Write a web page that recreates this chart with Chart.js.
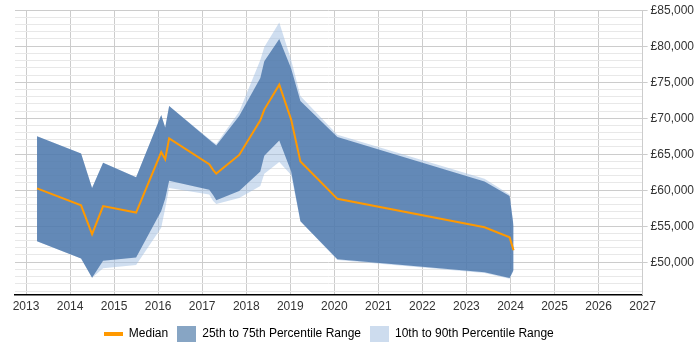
<!DOCTYPE html>
<html>
<head>
    <meta charset="UTF-8">
    <title>Salary chart</title>
    <script src="https://cdn.jsdelivr.net/npm/chart.js"></script>
    <style>
        html, body {
            margin: 0;
            padding: 0;
            background: #fff;
        }
    </style>
</head>
<body>
<canvas id="salaryChart" width="700" height="350"></canvas>
<script>
    // data
    const years = [2013.25, 2014.25, 2014.5, 2014.75, 2015.5, 2016.07, 2016.16, 2016.25, 2017.16, 2017.25, 2017.32,
        2017.84, 2018.32, 2018.41, 2018.75, 2019.02, 2019.23, 2020.07, 2023.41, 2023.98, 2024.07];
    const median = [60250, 57900, 53900, 57800, 56900, 65300, 64300, 67200, 63600, 62800, 62300,
        64900, 69700, 71200, 74650, 69800, 64000, 58800, 54850, 53450, 51650];
    const p75 = [67500, 65100, 60300, 63800, 61800, 70450, 68700, 71700, 67000, 66550, 66200,
        70300, 75600, 77900, 81000, 76900, 72400, 67400, 61200, 59200, 55000];
    const p25 = [52900, 50500, 47850, 50200, 50650, 57100, 58800, 61300, 60070, 59300, 58600,
        59900, 62600, 64800, 66900, 62600, 55700, 50400, 48600, 47800, 48900];
    const p90 = [67500, 65100, 60300, 63800, 61800, 70450, 68700, 71700, 67100, 66700, 66400,
        70900, 78100, 79900, 83300, 78100, 73100, 67700, 61600, 59400, 55200];
    const p10 = [52900, 50500, 47850, 49150, 49600, 54800, 57500, 60300, 59400, 58500, 58100,
        58900, 60600, 62300, 63900, 62100, 55700, 50300, 48500, 47700, 48800];

    const xTicks = [2013, 2014, 2015, 2016, 2017, 2018, 2019, 2020, 2021, 2022, 2023, 2024, 2025, 2026, 2027];
    const yTicks = [];
    for (let v = 46000; v <= 85000; v += 1000) yTicks.push(v);

    const pts = (vals) => vals.map((v, i) => ({x: years[i], y: v}));

    // small canvases used as legend swatches
    function swatch(w, h, color) {
        const c = document.createElement('canvas');
        c.width = w;
        c.height = h;
        const g = c.getContext('2d');
        g.fillStyle = color;
        g.fillRect(0, 0, w, h);
        return c;
    }

    // keep the legend centred under the plot area, not the whole canvas
    const centerLegend = {
        id: 'centerLegend',
        afterLayout(chart) {
            const l = chart.legend;
            const a = chart.chartArea;
            const shift = (a.left + a.right) / 2 - (l.left + l.right) / 2;
            l.left += shift;
            l.right += shift;
        }
    };

    Chart.defaults.font.family = '"Liberation Sans", Arial, sans-serif';
    Chart.defaults.font.size = 12;
    Chart.defaults.color = '#333';

    const ctx = document.getElementById('salaryChart').getContext('2d');
    new Chart(ctx, {
        type: 'line',
        data: {
            datasets: [
                {
                    label: 'Median',
                    data: pts(median),
                    borderColor: '#ff9900',
                    backgroundColor: '#ff9900',
                    borderWidth: 2,
                    pointRadius: 0,
                    fill: false
                },
                {
                    label: '25th to 75th Percentile Range',
                    data: pts(p75),
                    borderWidth: 0,
                    borderColor: 'rgba(0,0,0,0)',
                    backgroundColor: 'rgba(62,108,163,0.74)',
                    pointRadius: 0,
                    fill: '+1'
                },
                {
                    label: 'p25',
                    data: pts(p25),
                    borderWidth: 0,
                    borderColor: 'rgba(0,0,0,0)',
                    pointRadius: 0,
                    fill: false
                },
                {
                    label: '10th to 90th Percentile Range',
                    data: pts(p90),
                    borderWidth: 0,
                    borderColor: 'rgba(0,0,0,0)',
                    backgroundColor: 'rgba(160,190,225,0.5)',
                    pointRadius: 0,
                    fill: '+1'
                },
                {
                    label: 'p10',
                    data: pts(p10),
                    borderWidth: 0,
                    borderColor: 'rgba(0,0,0,0)',
                    pointRadius: 0,
                    fill: false
                }
            ]
        },
        options: {
            responsive: false,
            animation: false,
            layout: {
                padding: {left: 15, right: 3, top: 0, bottom: 0}
            },
            elements: {
                line: {tension: 0}
            },
            scales: {
                x: {
                    type: 'linear',
                    min: 2012.75,
                    max: 2027,
                    afterBuildTicks: (scale) => {
                        scale.ticks = xTicks.map(v => ({value: v}));
                    },
                    ticks: {
                        padding: 5,
                        autoSkip: false,
                        maxRotation: 0,
                        callback: (v) => String(v)
                    },
                    grid: {
                        color: '#cccccc',
                        drawTicks: false
                    },
                    border: {
                        color: '#000',
                        width: 1.5
                    }
                },
                y: {
                    position: 'right',
                    min: 45500,
                    max: 85000,
                    afterBuildTicks: (scale) => {
                        scale.ticks = yTicks.map(v => ({value: v}));
                    },
                    ticks: {
                        padding: 3,
                        autoSkip: false,
                        callback: (v) => v % 5000 === 0 ? '£' + v.toLocaleString('en-GB') : ''
                    },
                    grid: {
                        color: (c) => c.tick && c.tick.value % 5000 === 0 ? '#cccccc' : '#e8e8e8',
                        tickColor: (c) => c.tick && c.tick.value % 5000 === 0 ? '#cccccc' : 'rgba(0,0,0,0)',
                        tickLength: 5
                    },
                    border: {
                        color: '#cccccc'
                    }
                }
            },
            plugins: {
                tooltip: {enabled: false},
                legend: {
                    position: 'bottom',
                    labels: {
                        usePointStyle: true,
                        pointStyleWidth: 19,
                        boxHeight: 12,
                        padding: 9,
                        color: '#333',
                        generateLabels: () => [
                            {text: 'Median', pointStyle: swatch(19, 4, '#ff9900'), lineWidth: 0, datasetIndex: 0},
                            {text: '25th to 75th Percentile Range', pointStyle: swatch(19, 16, '#87a5c4'), lineWidth: 0, datasetIndex: 1},
                            {text: '10th to 90th Percentile Range', pointStyle: swatch(19, 16, '#cddcee'), lineWidth: 0, datasetIndex: 3}
                        ]
                    }
                }
            }
        },
        plugins: [centerLegend]
    });
</script>
</body>
</html>
